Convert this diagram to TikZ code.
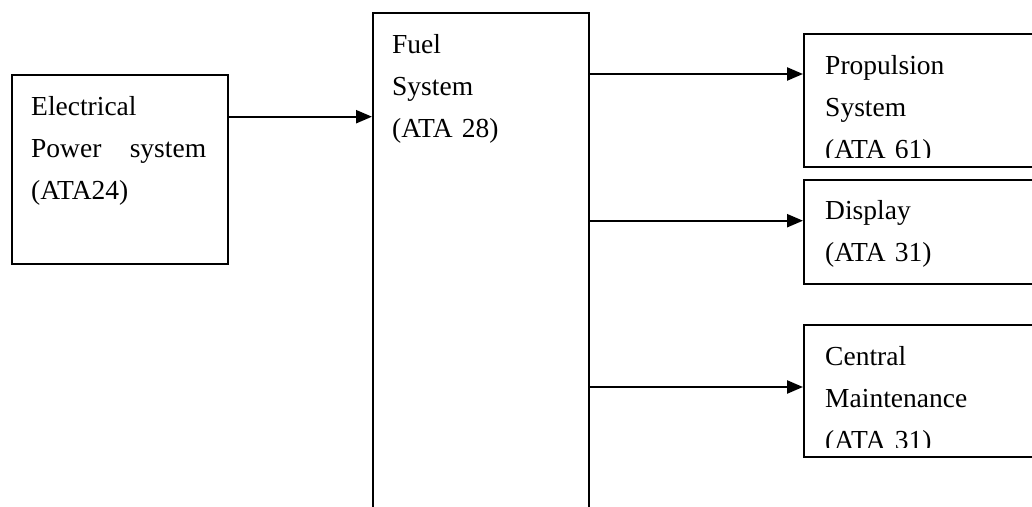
\documentclass[tikz,border=0pt]{standalone}
\usepackage{fontspec}
\setmainfont{Liberation Serif}
\usetikzlibrary{arrows.meta,calc,positioning}

\begin{document}
\begin{tikzpicture}[x=1pt,y=1pt,
    sysbox/.style={draw,line width=1.7pt,anchor=north west,inner sep=0pt},
    systext/.style={anchor=base west,inner sep=0pt,text width=175pt,align=left,
      font=\fontsize{27.5pt}{41.7pt}\selectfont},
    flow/.style={line width=2.3pt,-{Triangle[length=16pt,width=13pt]}}]
  \useasboundingbox (0,0) rectangle (1032,506);
  \clip (0,0) rectangle (1032,506);

  \coordinate (E) at (11,432);
  \coordinate (F) at (372,494);
  \coordinate (P) at (803,473);
  \coordinate (D) at (803,327);
  \coordinate (C) at (803,182);

  \node[sysbox,minimum width=216pt,minimum height=189pt] (elec) at (E) {};
  \node[sysbox,minimum width=216pt,minimum height=540pt] (fuel) at (F) {};
  \node[sysbox,minimum width=260pt,minimum height=133pt] (prop) at (P) {};
  \node[sysbox,minimum width=260pt,minimum height=104pt] (disp) at (D) {};
  \node[sysbox,minimum width=260pt,minimum height=132pt] (cent) at (C) {};

  \node[systext] (elecT) at ($(elec.north west)+(20,-42)$) {Electrical\\Power\hfill system\\(ATA24)};
  \node[systext] (fuelT) at ($(fuel.north west)+(20,-42)$) {Fuel\\System\\(ATA 28)};
  \begin{scope}
    \clip (prop.north west) rectangle ($(prop.south east)+(0,10)$);
    \node[systext] (propT) at ($(prop.north west)+(22,-42)$) {Propulsion\\System\\(ATA 61)};
  \end{scope}
  \node[systext] (dispT) at ($(disp.north west)+(22,-41)$) {Display\\(ATA 31)};
  \begin{scope}
    \clip (cent.north west) rectangle ($(cent.south east)+(0,10)$);
    \node[systext] (centT) at ($(cent.north west)+(22,-42)$) {Central\\Maintenance\\(ATA 31)};
  \end{scope}

  % arrow heights
  \coordinate (y0) at (0,389.3);
  \coordinate (y1) at (0,432);
  \coordinate (y2) at (0,285.3);
  \coordinate (y3) at (0,119);

  \draw[flow] (elec.east |- y0) -- (fuel.west |- y0);
  \draw[flow] (fuel.east |- y1) -- (prop.west |- y1);
  \draw[flow] (fuel.east |- y2) -- (disp.west |- y2);
  \draw[flow] (fuel.east |- y3) -- (cent.west |- y3);
\end{tikzpicture}
\end{document}
